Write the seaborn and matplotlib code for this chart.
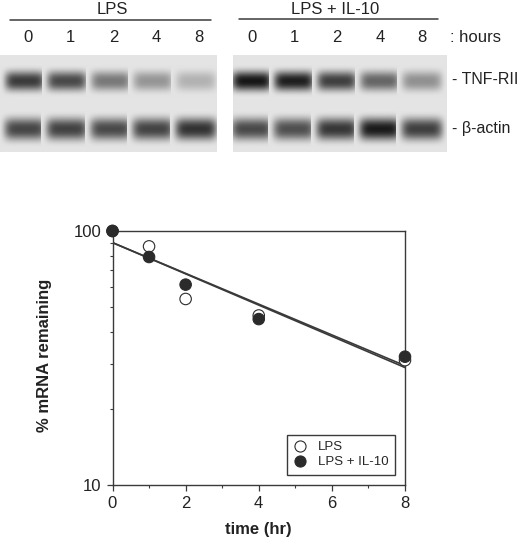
# mRNA decay: blots on top, % remaining on a log scale below
import numpy as np
import pandas as pd
import matplotlib
matplotlib.use('Agg')
import matplotlib.pyplot as plt
from matplotlib.patches import Rectangle
import seaborn as sns

hours = [0, 1, 2, 4, 8]
lps = [100, 87, 54, 46.5, 31]
lps_il10 = [100, 79, 61.5, 45, 32]
fit_x = [0, 8]
fit_lps = [90, 29]
fit_il10 = [90, 29.5]

# grey level at the centre of each band, read from the blots
tnf_left = [50, 65, 115, 145, 175]
actin_left = [62, 58, 66, 60, 42]
tnf_right = [12, 20, 55, 95, 140]
actin_right = [66, 72, 46, 16, 55]

lanes_left = [25, 67, 111, 153, 196]
lanes_right = [252, 294, 337, 380, 422]
across = [0, 0.6, 0.95, 1, 1, 1, 1, 1, 0.95, 0.6, 0]
down = [0, 0.35, 0.85, 1, 0.85, 0.35, 0]

sns.set_theme(style='ticks')
plt.rcParams['font.family'] = ['Liberation Sans', 'DejaVu Sans']
dark = '#3a3a3a'
gel_bg = 228

fig = plt.figure(figsize=(5.2, 5.41), dpi=100)
bg = fig.add_axes([0, 0, 1, 1])
bg.set_xlim(0, 520)
bg.set_ylim(541, 0)
bg.axis('off')

profile = np.outer(down, across)


def gel(x0, x1, lanes, tnf, actin):
    box = Rectangle((x0, 55), x1 - x0, 97, color=str(gel_bg / 255), lw=0, zorder=1)
    bg.add_patch(box)
    for x, a, b in zip(lanes, tnf, actin):
        for y, grey, w, h in [(81, a, 25, 16), (129, b, 26, 18)]:
            img = gel_bg - (gel_bg - grey) * profile
            im = bg.imshow(img, cmap='gray', vmin=0, vmax=255, interpolation='bicubic',
                           extent=(x - w, x + w, y + h, y - h), aspect='auto', zorder=2)
            im.set_clip_path(box)


gel(0, 217, lanes_left, tnf_left, actin_left)
gel(233, 447, lanes_right, tnf_right, actin_right)
bg.set_xlim(0, 520)
bg.set_ylim(541, 0)

bg.plot([10, 211], [20, 20], color=dark, lw=1.1)
bg.plot([239, 438], [19, 19], color=dark, lw=1.1)
bg.text(112, 9, 'LPS', ha='center', va='center', fontsize=12, color='#222222')
bg.text(335, 9, 'LPS + IL-10', ha='center', va='center', fontsize=12, color='#222222')
for x, h in zip(lanes_left + lanes_right, hours + hours):
    bg.text(x + 3 if x < 230 else x, 38, str(h), ha='center', va='center', fontsize=12, color='#222222')
bg.text(450, 37, ': hours', ha='left', va='center', fontsize=12, color='#222222')
bg.text(452, 79, '- TNF-RII', ha='left', va='center', fontsize=11.5, color='#222222')
bg.text(452, 129, '- β-actin', ha='left', va='center', fontsize=11.5, color='#222222')

ax = fig.add_axes([112.5 / 520, (541 - 485) / 541, 292.5 / 520, 254 / 541])
df = pd.DataFrame({'time': hours * 2, 'pct': lps + lps_il10,
                   'group': ['LPS'] * 5 + ['LPS + IL-10'] * 5})
sns.lineplot(x=fit_x, y=fit_lps, color=dark, lw=1.2, ax=ax, zorder=2)
sns.lineplot(x=fit_x, y=fit_il10, color=dark, lw=1.2, ax=ax, zorder=2)
sns.scatterplot(data=df, x='time', y='pct', hue='group', style='group',
                palette={'LPS': 'white', 'LPS + IL-10': '#2b2b2b'},
                markers={'LPS': 'o', 'LPS + IL-10': 'o'},
                s=68, edgecolor='#2b2b2b', linewidth=0.8, clip_on=False, ax=ax, zorder=3)

ax.set_yscale('log')
ax.set_xlim(0, 8)
ax.set_ylim(10, 100)
ax.set_xticks([0, 2, 4, 6, 8])
ax.set_xticks([1, 3, 5, 7], minor=True)
ax.set_yticks([10, 100], ['10', '100'])
ax.set_yticks([20, 30, 40, 50, 60, 70, 80, 90], minor=True)
ax.set_yticklabels([], minor=True)
ax.tick_params(axis='both', which='major', length=4, width=0.9, color=dark, labelsize=12, labelcolor='#222222', pad=4)
ax.tick_params(axis='both', which='minor', length=2.5, width=0.8, color=dark)
for side in ax.spines.values():
    side.set_color(dark)
    side.set_linewidth(1.0)
ax.set_xlabel('time (hr)', fontsize=12, fontweight='bold', color='#222222', labelpad=8)
ax.set_ylabel('% mRNA remaining', fontsize=12, fontweight='bold', color='#222222')
ax.yaxis.set_label_coords(-0.208, 0.51)

leg = ax.legend(title=None, loc='lower right', bbox_to_anchor=(0.965, 0.04), frameon=True, fancybox=False,
                edgecolor=dark, framealpha=1, fontsize=9.5, labelspacing=0.2, handlelength=0.9,
                handletextpad=0.9, borderpad=0.5, borderaxespad=0)
leg.get_frame().set_linewidth(1.0)
for h in leg.legend_handles:
    h.set_markersize(8)

fig.savefig('out.png', dpi=100)
